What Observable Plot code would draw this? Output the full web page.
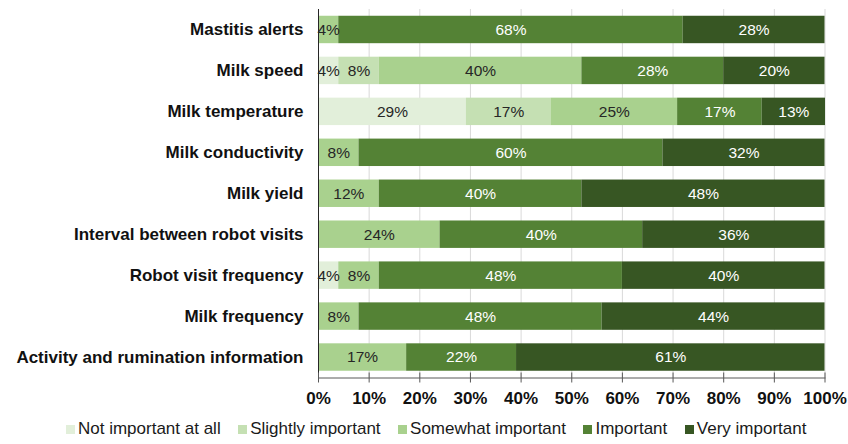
<!DOCTYPE html>
<html><head><meta charset="utf-8">
<script src="https://cdn.jsdelivr.net/npm/d3@7"></script>
<script src="https://cdn.jsdelivr.net/npm/@observablehq/plot@0.6"></script>
<style>
body{margin:0;background:#fff;font-family:"Liberation Sans",Arial,sans-serif;}
#chart svg{display:block}
.legend{display:flex;align-items:center;padding-left:66px;padding-top:7px;font-size:17px;line-height:20px;color:#1a1a1a;white-space:nowrap}
.item{display:flex;align-items:center;margin-right:17.5px}
.sw{width:9px;height:9px;margin-right:3px;flex:none}
</style></head><body><div id="chart"></div><div class="legend" id="legend"></div>
<script>
const categories = ["Mastitis alerts","Milk speed","Milk temperature","Milk conductivity","Milk yield","Interval between robot visits","Robot visit frequency","Milk frequency","Activity and rumination information"];
const levels = ["Not important at all","Slightly important","Somewhat important","Important","Very important"];
const colors = ["#e2efda","#c5e0b3","#a9d18e","#548235","#375623"];
const notImportant  = [0, 4, 29.2, 0, 0, 0, 4, 0, 0];
const slightly      = [0, 8, 16.7, 0, 0, 0, 0, 0, 0];
const somewhat      = [4, 40, 25, 8, 12, 24, 8, 8, 17.4];
const important     = [68, 28, 16.7, 60, 40, 40, 48, 48, 21.7];
const veryImportant = [28, 20, 12.5, 32, 48, 36, 40, 44, 60.9];
const xTicks = [0,10,20,30,40,50,60,70,80,90,100];
const darkLevels = ["Important","Very important"];

const series = [notImportant, slightly, somewhat, important, veryImportant];
const data = [];
levels.forEach((lvl, j) => categories.forEach((cat, i) => {
  if (series[j][i] > 0) data.push({category: cat, level: lvl, value: series[j][i]});
}));
const fmt = v => Math.round(v) + "%";
const stackOpts = {x: "value", y: "category", z: "level", order: levels};

const chart = Plot.plot({
  width: 848, height: 412,
  marginLeft: 318, marginRight: 23.5, marginTop: 9, marginBottom: 34.5,
  style: {fontFamily: '"Liberation Sans", Arial, sans-serif', fontSize: "17px", color: "#111", background: "white"},
  x: {domain: [0, 100], label: null},
  y: {domain: categories, paddingInner: 0.33, paddingOuter: 0.165, round: false, label: null},
  color: {domain: levels, range: colors},
  marks: [
    Plot.ruleX(xTicks.slice(1), {stroke: "#d9d9d9", strokeWidth: 1}),
    Plot.barX(data, Plot.stackX({...stackOpts, fill: "level"})),
    Plot.text(data, Plot.stackX({...stackOpts, text: d => darkLevels.includes(d.level) ? null : fmt(d.value), fill: "#262626", fontSize: 15.5})),
    Plot.text(data, Plot.stackX({...stackOpts, text: d => darkLevels.includes(d.level) ? fmt(d.value) : null, fill: "white", fontSize: 15.5})),
    Plot.frame({anchor: "left", stroke: "#262626"}),
    Plot.frame({anchor: "bottom", stroke: "#595959"}),
    Plot.axisX({ticks: xTicks, tickSize: 10, dy: -5, tickFormat: () => "", stroke: "#595959", label: null}),
    Plot.axisX({ticks: xTicks, tickSize: 0, tickPadding: 14, tickFormat: d => d + "%", fontWeight: "bold", fontSize: 17, fill: "#111", label: null}),
    Plot.axisY({tickSize: 0, tickPadding: 15, fontWeight: "bold", fontSize: 17, fill: "#111", label: null})
  ]
});
document.getElementById("chart").appendChild(chart);

const legend = document.getElementById("legend");
levels.forEach((lvl, j) => {
  const item = document.createElement("div");
  item.className = "item";
  const sw = document.createElement("span");
  sw.className = "sw";
  sw.style.background = colors[j];
  const t = document.createElement("span");
  t.textContent = lvl;
  item.appendChild(sw); item.appendChild(t);
  legend.appendChild(item);
});
</script></body></html>
